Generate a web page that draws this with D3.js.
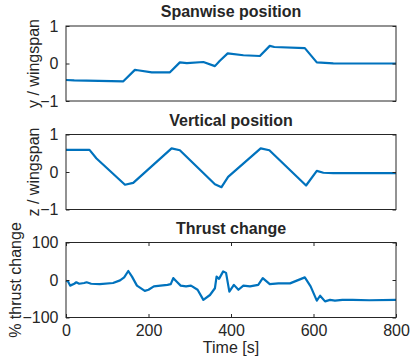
<!DOCTYPE html>
<html><head><meta charset="utf-8">
<script src="https://cdn.jsdelivr.net/npm/d3@7"></script>
<style>body{margin:0;background:#fff}svg{display:block}text{font-family:"Liberation Sans",Arial,Helvetica,sans-serif;fill:#262626}</style>
</head><body>
<script>
// Spanwise position (y / wingspan)
const spanT = [0,20,139,167,174,208,252,276,293,333,361,373,392,430,470,494,505,579,608,648,800];
const spanV = [-0.44,-0.45,-0.475,-0.17,-0.18,-0.235,-0.235,0.03,0.01,0.04,-0.07,0.075,0.27,0.22,0.2,0.47,0.44,0.41,0.03,0.005,0];
// Vertical position (z / wingspan)
const vertT = [0,57,74,143,163,256,276,361,377,393,472,493,582,608,624,648,800];
const vertV = [0.59,0.59,0.36,-0.34,-0.29,0.63,0.58,-0.325,-0.405,-0.13,0.63,0.58,-0.36,0.03,-0.02,-0.03,-0.03];
// Thrust change (%)
const thrT = [0,5,10,20,25,32,44,50,61,82,114,131,141,151,160,172,191,200,213,229,246,254,260,268,278,291,303,319,333,349,361,365,371,381,388,396,407,418,430,446,466,477,494,515,543,579,593,608,616,628,640,652,670,695,735,800];
const thrV = [-2,-4,-15,-10,-6,-10,-8,-6,-10,-11,-8,-1,7,24,9,-15,-29,-26,-17,-15,-13,-11,5,-4,-15,-17,-15,-26,-53,-40,-22,9,3,23,19,-31,-13,-26,-15,-17,-13,5,-11,-9,-9,7,-17,-55,-42,-57,-53,-55,-53,-53,-54,-53];

const panels = [
  {title:"Spanwise position", ylabel:"y / wingspan", t:spanT, v:spanV, dom:[-1,1], ticks:[-1,0,1], top:26, bottom:101, xt:false, lx:38.5},
  {title:"Vertical position", ylabel:"z / wingspan", t:vertT, v:vertV, dom:[-1,1], ticks:[-1,0,1], top:134.5, bottom:209.5, xt:false, lx:38.5},
  {title:"Thrust change", ylabel:"% thrust change", t:thrT, v:thrV, dom:[-100,100], ticks:[-100,0,100], top:242.5, bottom:317.5, xt:true, lx:21}
];
const xTicks = [0,200,400,600,800];
const W=411,H=358, L=66, R=396, FS=16, TL=3.5, axc="#262626";
const svg = d3.select("body").append("svg").attr("width",W).attr("height",H);
const x = d3.scaleLinear().domain([0,800]).range([L,R]);

panels.forEach(p=>{
  const y = d3.scaleLinear().domain(p.dom).range([p.bottom,p.top]);
  const g = svg.append("g");
  const data = p.t.map((t,i)=>[t,p.v[i]]);
  g.append("path").datum(data)
    .attr("d", d3.line().x(d=>x(d[0])).y(d=>y(d[1])))
    .attr("fill","none").attr("stroke","#0072BD").attr("stroke-width",2.2).attr("stroke-linejoin","round");
  g.append("rect").attr("x",L).attr("y",p.top).attr("width",R-L).attr("height",p.bottom-p.top)
    .attr("fill","none").attr("stroke",axc).attr("stroke-width",1);
  const yl = d3.axisLeft(y).tickValues(p.ticks).tickSizeInner(-TL).tickSizeOuter(0).tickPadding(4+TL).tickFormat(d3.format("d"));
  const ya = g.append("g").attr("transform",`translate(${L},0)`).call(yl);
  ya.select(".domain").remove();
  ya.selectAll("line").attr("stroke",axc);
  ya.selectAll("text").attr("font-size",FS).attr("fill",axc).attr("font-family","Liberation Sans, Arial, sans-serif");
  const yr = d3.axisRight(y).tickValues(p.ticks).tickSizeInner(-TL).tickSizeOuter(0).tickFormat("");
  const yra = g.append("g").attr("transform",`translate(${R},0)`).call(yr);
  yra.select(".domain").remove(); yra.selectAll("line").attr("stroke",axc);
  if(p.xt){
    const xb = d3.axisBottom(x).tickValues(xTicks).tickSizeInner(-TL).tickSizeOuter(0).tickPadding(4+TL).tickFormat(d3.format("d"));
    const xa = g.append("g").attr("transform",`translate(0,${p.bottom})`).call(xb);
    xa.select(".domain").remove(); xa.selectAll("line").attr("stroke",axc);
    xa.selectAll("text").attr("font-size",FS).attr("fill",axc).attr("font-family","Liberation Sans, Arial, sans-serif");
    const xt = d3.axisTop(x).tickValues(xTicks).tickSizeInner(-TL).tickSizeOuter(0).tickFormat("");
    const xta = g.append("g").attr("transform",`translate(0,${p.top})`).call(xt);
    xta.select(".domain").remove(); xta.selectAll("line").attr("stroke",axc);
  }
  g.append("text").attr("x",(L+R)/2).attr("y",p.top-9).attr("text-anchor","middle")
    .attr("font-size",FS).attr("font-weight","bold").attr("fill","#000").text(p.title);
  g.append("text").attr("transform",`translate(${p.lx},${(p.top+p.bottom)/2}) rotate(-90)`)
    .attr("text-anchor","middle").attr("font-size",FS).text(p.ylabel);
});
svg.append("text").attr("x",(L+R)/2).attr("y",353).attr("text-anchor","middle").attr("font-size",FS).text("Time [s]");
</script>
</body></html>
